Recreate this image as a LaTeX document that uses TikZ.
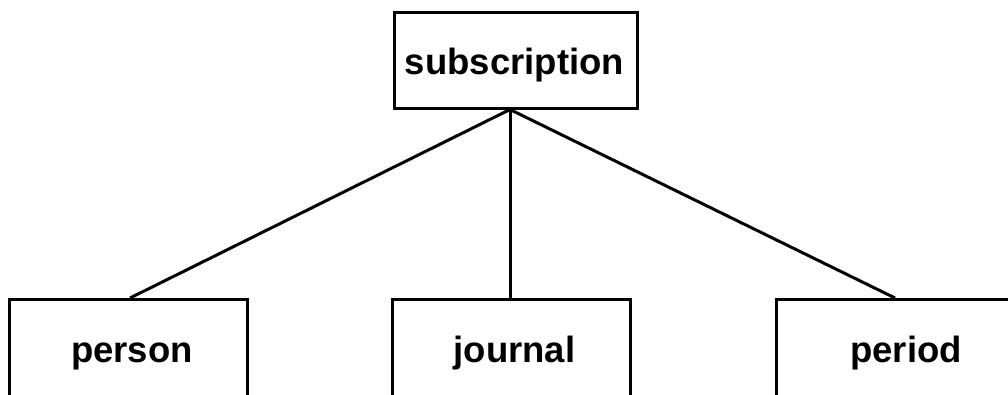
\documentclass[tikz,border=0pt]{standalone}
\usepackage{fontspec}
\setmainfont{Liberation Sans}
\begin{document}
\begin{tikzpicture}[x=1pt, y=-1pt,
  edge/.style={draw, line width=3pt},
  parent/.style={draw, line width=3pt, minimum width=243pt, minimum height=96pt, inner sep=0pt},
  entity/.style={draw, line width=3pt, minimum width=238pt, minimum height=140pt, anchor=north, inner sep=0pt},
  lbl/.style={font=\fontsize{36.5}{40}\selectfont\bfseries, anchor=base, inner sep=0pt}]
\useasboundingbox (0,0) rectangle (1008,394);
\clip (0,0) rectangle (1008,394);
% boxes
\node[parent] (sub) at (515.5,60) {};
\node[entity] (person) at (128,298) {};
\node[entity] (journal) at (511.5,298) {};
\node[entity] (period) at (895,298) {};
% labels
\node[lbl] (tsub) at (514.5,74) {subscription};
\node[lbl] (tperson) at (132,362) {person};
\node[lbl] (tjournal) at (514.5,362) {journal};
\node[lbl] (tperiod) at (906,362) {period};
% connectors
\coordinate (hub) at (sub.south -| 510,0);
\draw[edge] (hub) -- ([xshift=2pt]person.north);
\draw[edge] (hub) -- (journal.north -| hub);
\draw[edge] (hub) -- (period.north);
\end{tikzpicture}
\end{document}
